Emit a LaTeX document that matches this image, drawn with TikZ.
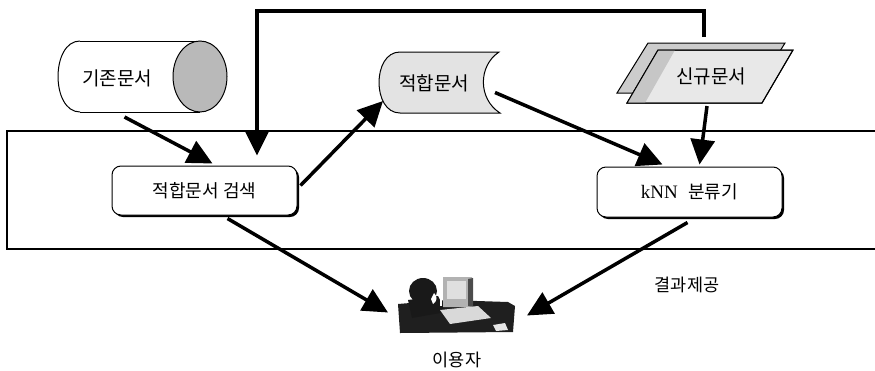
\documentclass[tikz,border=0pt]{standalone}
\usepackage{fontspec}
\setmainfont{Liberation Serif}
\newfontfamily\kr{Noto Sans CJK KR}
\usetikzlibrary{arrows.meta,calc,shadows}

\begin{document}
\begin{tikzpicture}[x=1pt,y=-1pt,
  flow/.style={line width=3.5pt,-{Triangle[length=25pt,width=24pt]}},
  outline/.style={line width=1pt},
  area/.style={inner sep=0pt,outer sep=0pt,draw=none},
  procbox/.style={draw,line width=1pt,rounded corners=9pt,fill=white,
    minimum width=185pt,minimum height=49pt,inner sep=0pt,
    drop shadow={shadow xshift=2pt,shadow yshift=-2pt,fill=black,opacity=1}},
  krlabel/.style={font=\kr\fontsize{19}{21}\selectfont,inner sep=0pt},
  krsmall/.style={font=\kr\fontsize{17.5}{20}\selectfont,inner sep=0pt}
]
\useasboundingbox (0,0) rectangle (875,370);

% system frame (open to the right)
\draw[line width=1.5pt] (875,131) -- (7,131) -- (7,249) -- (875,249);

% stored documents: horizontal cylinder
\node[area,minimum width=170pt,minimum height=71pt] (gizon) at (142.5,76.5) {};
\draw[outline] (80,41) -- (200,41) (80,112) -- (200,112);
\draw[outline] (80,41) .. controls (50.7,41) and (50.7,112) .. (80,112);
\draw[outline,fill=gray!55] (200,76.5) ellipse[x radius=27,y radius=35.5];
\node[krlabel] (gizonlbl) at (117,78) {기존문서};

% relevant documents: stored-data shape
\node[area,minimum width=122pt,minimum height=61pt] (fit) at (439,82.5) {};
\draw[outline,fill=gray!22] (400,52) -- (499,52)
  .. controls (478,66) and (478,99) .. (500,113) -- (400,113)
  .. controls (372,113) and (372,52) .. (400,52) -- cycle;
\node[krlabel] (fitlbl) at (434,83) {적합문서};

% new documents: stacked parallelograms
\node[area,minimum width=176pt,minimum height=60pt] (new) at (705,73) {};
\draw[outline,fill=gray!40] (648,43) -- (785,43) -- (754,93) -- (617,93) -- cycle;
\draw[outline,fill=gray!18] (658,50) -- (793,50) -- (762,103) -- (627,103) -- cycle;
\fill[gray!45] (658,50) -- (675,50) -- (645,103) -- (627,103) -- cycle;
\draw[outline] (658,50) -- (793,50) -- (762,103) -- (627,103) -- cycle;
\node[krlabel] (newlbl) at (711,76) {신규문서};

% processing steps
\node[procbox,font=\kr\fontsize{18}{20}\selectfont] (search) at (204.5,190.5) {적합문서 검색};
\node[procbox,minimum height=50pt] (knn) at (689.5,192)
  {\fontsize{19}{21}\selectfont kNN\hspace{0.55em}{\kr\fontsize{18}{20}\selectfont 분류기}};

% user at a workstation
\node[area,minimum width=117pt,minimum height=55pt] (user) at (456.5,305.5) {};
\fill[black!88] (398,304) -- (446,300) -- (508,302) -- (515,306) -- (513,332) -- (400,333) -- cycle;
\fill[black!90] (423,291) ellipse[x radius=14,y radius=13];
\fill[black!90] (408,300) -- (438,296) -- (446,312) -- (412,318) -- cycle;
\fill[white] (434,293) .. controls (438,296) and (437,302) .. (433,304) -- (431,299) -- cycle;
\draw[white,line width=1.2pt] (441,278) -- (441,306);
\fill[gray!60] (443,277) -- (472,277) -- (473,307) -- (443,307) -- cycle;
\fill[gray!25] (447,281) -- (466,281) -- (466,299) -- (447,299) -- cycle;
\fill[black!70] (468,279) -- (473,278) -- (473,307) -- (468,306) -- cycle;
\fill[gray!30] (440,310) -- (478,306) -- (491,318) -- (450,324) -- cycle;
\fill[gray!20] (493,325) -- (505,323) -- (508,330) -- (496,331) -- cycle;
\node[krsmall] (userlbl) at (457,360) {이용자};

\node[krsmall] (resultlbl) at (687,285) {결과제공};

% data flow
\draw[flow] ($(gizon.south)+(-18,5)$) -- ($(search.north)+(8,-2)$);
\draw[flow] ($(search.east)+(3,-5)$) -- ($(fit.south west)+(5,-12)$);
\draw[flow] ($(fit.east)+(-5,10)$) -- ($(knn.north)+(-27,-2)$);
\draw[flow] ($(new.south)+(2,3)$) -- ($(knn.north)+(10,-2)$);
\draw[flow] ($(new.north)+(-1,-6)$) -- ++(0,-26) -| ($(search.north)+(52.5,-10)$);
\draw[flow] ($(search.south)+(23,3)$) -- ($(user.west)+(-10,7)$);
\draw[flow] ($(knn.south)+(-2,5)$) -- ($(user.east)+(12,10)$);
\end{tikzpicture}
\end{document}
